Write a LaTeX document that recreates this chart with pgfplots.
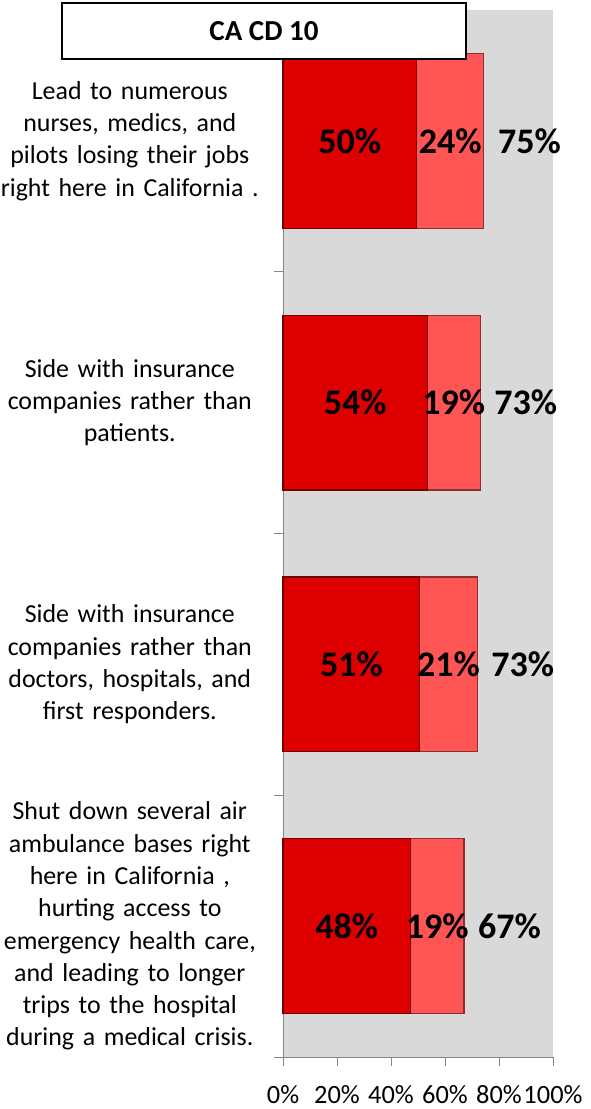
\documentclass[border=0pt]{standalone}
\usepackage{pgfplots}
\usepackage{pgfplotstable}
\pgfplotsset{compat=1.18}
\usepackage{fontspec}
\setmainfont{Carlito}
\definecolor{darkbar}{RGB}{222,0,0}
\definecolor{lightbar}{RGB}{255,85,85}
\definecolor{bggray}{RGB}{217,217,217}
\definecolor{axgray}{RGB}{134,134,134}

% cat: 3 = top category ... 0 = bottom category
\pgfplotstableread{
cat dark light total
3 49.5 24.9 74.4
2 53.5 19.5 73.0
1 50.7 21.2 71.9
0 47.2 19.8 67.0
}\bardata

\pgfplotstableread{
cat x lab
3 24.75 50
2 26.75 54
1 25.35 51
0 23.60 48
}\darklabels

\pgfplotstableread{
cat x lab
3 61.95 24
2 63.25 19
1 61.30 21
0 57.10 19
}\lightlabels

\pgfplotstableread{
cat x lab
3 74.4 75
2 73.0 73
1 71.9 73
0 67.0 67
}\totallabels

\begin{document}
\begin{tikzpicture}
\path[use as bounding box] (0,0) rectangle (591bp,-1109bp);
\begin{axis}[
  at={(283bp,-1057bp)}, anchor=south west,
  scale only axis, width=270bp, height=1047bp,
  xmin=0, xmax=100, ymin=-0.5, ymax=3.5,
  bar width=0.668, bar shift=0pt,
  axis background/.style={fill=bggray},
  axis x line=bottom, axis y line=left,
  axis line style={-, draw=axgray, line width=1bp},
  tick align=outside,
  major tick length=9bp,
  xtick={0,20,40,60,80,100},
  xticklabels={0\%,20\%,40\%,60\%,80\%,100\%},
  xtick style={draw=axgray, line width=1bp},
  xticklabel style={font=\fontsize{26.4bp}{30bp}\selectfont, yshift=-16bp},
  ytick={0,1,2,3},
  yticklabels={
    {Shut down several air\\ambulance bases right\\here in California ,\\hurting access to\\emergency health care,\\and leading to longer\\trips to the hospital\\during a medical crisis.},
    {Side with insurance\\companies rather than\\doctors, hospitals, and\\first responders.},
    {Side with insurance\\companies rather than\\patients.},
    {Lead to numerous\\nurses, medics, and\\pilots losing their jobs\\right here in California .}},
  ytick style={draw=none},
  yticklabel style={text width=280bp, align=center, anchor=east, inner sep=0pt,
    font=\fontsize{25.9bp}{32.3bp}\selectfont, xshift=-4bp},
  extra y ticks={-0.5,0.5,1.5,2.5,3.5},
  extra y tick labels={},
  extra y tick style={ytick style={draw=axgray, line width=1bp}},
  clip=false,
]
% light bars span 0 .. total; dark bars drawn over them span 0 .. dark
\addplot[xbar, fill=lightbar, draw=lightbar!55!black, line width=1.2bp]
  table[x=total, y=cat] {\bardata};
\addplot[xbar, fill=darkbar, draw=darkbar!50!black, line width=1.2bp]
  table[x=dark, y=cat] {\bardata};

\addplot[draw=none, mark=none, nodes near coords={\pgfplotspointmeta\%},
  point meta=explicit symbolic,
  every node near coord/.style={anchor=center, inner sep=0pt,
    font=\bfseries\fontsize{36bp}{40bp}\selectfont}]
  table[x=x, y=cat, meta=lab] {\darklabels};
\addplot[draw=none, mark=none, nodes near coords={\pgfplotspointmeta\%},
  point meta=explicit symbolic,
  every node near coord/.style={anchor=center, inner sep=0pt,
    font=\bfseries\fontsize{36bp}{40bp}\selectfont}]
  table[x=x, y=cat, meta=lab] {\lightlabels};
\addplot[draw=none, mark=none, nodes near coords={\pgfplotspointmeta\%},
  point meta=explicit symbolic,
  every node near coord/.style={anchor=west, inner sep=0pt, xshift=14bp,
    font=\bfseries\fontsize{36bp}{40bp}\selectfont}]
  table[x=x, y=cat, meta=lab] {\totallabels};
\end{axis}
\node[draw=black, line width=1.5bp, fill=white, minimum width=404bp,
  minimum height=56bp, inner sep=0pt,
  font=\bfseries\fontsize{29bp}{34bp}\selectfont] at (264bp,-31bp) {CA CD 10};
\end{tikzpicture}
\end{document}
